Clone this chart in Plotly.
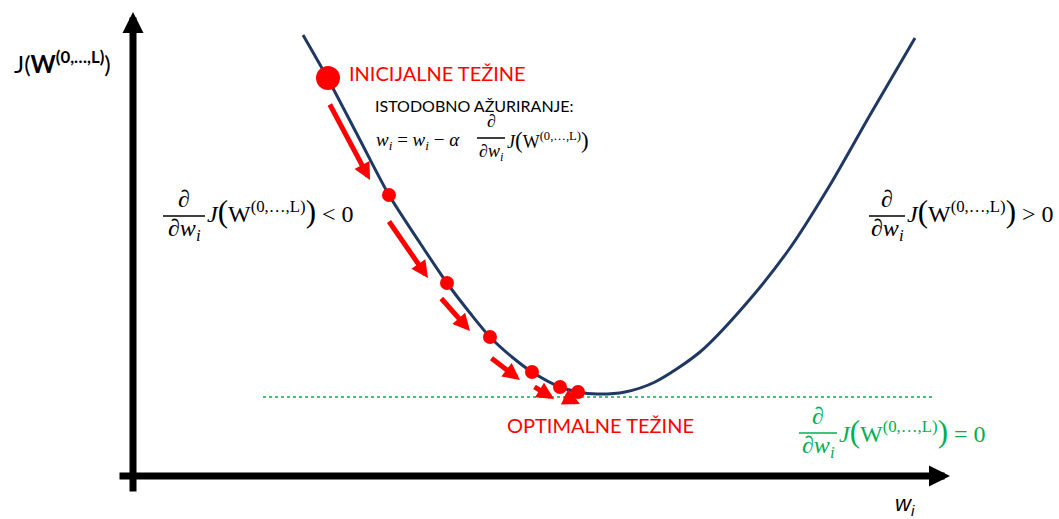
import plotly.graph_objects as go

# ---- data (pixel-like coordinates, y grows downward) ----
curve_w = [303, 328, 360, 389, 420, 447, 470, 490, 512, 532, 560, 578, 597, 625, 655, 700, 745, 790, 830, 870, 915]
curve_J = [35, 79, 140, 195, 243, 283, 313, 337, 357, 372, 387, 392, 394, 392, 382, 352, 305, 248, 185, 115, 38]

step_w = [328, 389, 447, 490, 532, 560, 578]
step_J = [78, 195, 283, 337, 372, 387, 392]
step_size = [24, 14, 14, 14, 14, 14, 14]

# arrows: (tail_w, tail_J, tip_w, tip_J)
arrow_tail_w = [329, 388, 440, 490, 533, 563]
arrow_tail_J = [103, 220, 297, 357, 386, 396]
arrow_tip_w = [370, 428, 470, 520, 554, 580]
arrow_tip_J = [180, 278, 331, 380, 399, 404]

optimum_J = 397
optimum_w_range = [263, 935]

RED = "#FF0000"
NAVY = "#1F3864"
GREEN = "#00B050"
SANS = "Lato"
SERIF = "Liberation Serif"

fig = go.Figure()

fig.add_trace(go.Scatter(x=curve_w, y=curve_J, mode="lines",
                         line=dict(color=NAVY, width=3, shape="spline", smoothing=0.8),
                         hoverinfo="skip", showlegend=False))

fig.add_trace(go.Scatter(x=optimum_w_range, y=[optimum_J, optimum_J], mode="lines",
                         line=dict(color=GREEN, width=1.5, dash="dot"),
                         hoverinfo="skip", showlegend=False))

fig.add_trace(go.Scatter(x=step_w, y=step_J, mode="markers",
                         marker=dict(color=RED, size=step_size, opacity=1, line=dict(width=0)),
                         hoverinfo="skip", showlegend=False))

annotations = []
shapes = []

# red step arrows
for tw, tj, hw, hj in zip(arrow_tail_w, arrow_tail_J, arrow_tip_w, arrow_tip_J):
    annotations.append(dict(x=hw, y=hj, ax=tw, ay=tj, xref="x", yref="y", axref="x", ayref="y",
                            text="", showarrow=True, arrowhead=2, arrowwidth=5, arrowsize=0.68,
                            arrowcolor=RED, standoff=0, startstandoff=0))

# coordinate axes (arrows)
annotations.append(dict(x=133, y=12, ax=133, ay=493, xref="x", yref="y", axref="x", ayref="y",
                        text="", showarrow=True, arrowhead=2, arrowwidth=7, arrowsize=0.6,
                        arrowcolor="black", standoff=0))
annotations.append(dict(x=950, y=476, ax=118, ay=476, xref="x", yref="y", axref="x", ayref="y",
                        text="", showarrow=True, arrowhead=2, arrowwidth=7, arrowsize=0.6,
                        arrowcolor="black", standoff=0))


def txt(x, y, text, size, color="black", family=SANS, xanchor="left"):
    annotations.append(dict(x=x, y=y, xref="x", yref="y", text=text, showarrow=False,
                            xanchor=xanchor, yanchor="middle",
                            font=dict(family=family, size=size, color=color)))


def deriv(cx, line_y, half_w, main_left, main_y, tail, color, size=24):
    txt(cx, line_y - 17, "<i>∂</i>", size, color, SERIF, "center")
    txt(cx, line_y + 14, "<i>∂w<sub>i</sub></i>", size, color, SERIF, "center")
    shapes.append(dict(type="line", xref="x", yref="y", x0=cx - half_w, x1=cx + half_w,
                       y0=line_y, y1=line_y, line=dict(color=color, width=1.5)))
    big = int(size * 1.3)
    txt(main_left, main_y,
        f"<i>J</i><span style='font-size:{big}px'>(</span>W<sup>(0,…,L)</sup>"
        f"<span style='font-size:{big}px'>)</span>{tail}", size, color, SERIF)


txt(12, 62, "J(<b>W<sup>(0,…,L)</sup></b>)", 24)
txt(347, 73, "INICIJALNE TEŽINE", 20, RED)
txt(373, 105, "ISTODOBNO AŽURIRANJE:", 16)
txt(374, 141, "<i>w<sub>i</sub></i> = <i>w<sub>i</sub></i> − <i>α</i>", 19, "black", SERIF)
deriv(491, 138, 14, 505, 140, "", "black", size=18)
deriv(184, 216, 21, 205, 211, " &lt; 0", "black")
deriv(887, 216, 18, 905, 211, " &gt; 0", "black")
deriv(818, 433, 19, 837, 431, " = 0", GREEN)
txt(505, 425, "OPTIMALNE TEŽINE", 20, RED)
txt(893, 505, "<i>w<sub>i</sub></i>", 22, "black", "Liberation Sans")

fig.update_layout(
    width=1059, height=519, autosize=False,
    margin=dict(l=0, r=0, t=0, b=0, pad=0),
    paper_bgcolor="white", plot_bgcolor="white",
    xaxis=dict(range=[0, 1059], visible=False, fixedrange=True),
    yaxis=dict(range=[519, 0], visible=False, fixedrange=True),
    annotations=annotations, shapes=shapes, showlegend=False,
)

fig.write_html("out.html", config={"displayModeBar": False},
               post_script="document.body.style.margin='0';document.body.style.overflow='hidden';")
